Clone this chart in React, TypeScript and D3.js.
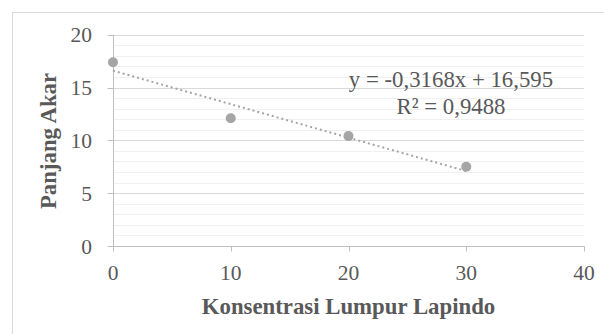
import * as d3 from 'd3'
import { useEffect, useRef } from 'react'

const concentrations = [0, 10, 20, 30]
const rootLengths = [17.4, 12.1, 10.4, 7.5]
const xTicks = [0, 10, 20, 30, 40]
const yTicks = [0, 5, 10, 15, 20]
const yMinorTicks = d3.range(0, 21, 1)
const trendSlope = -0.3168
const trendIntercept = 16.595
const trendLabel = ['y = -0,3168x + 16,595', 'R² = 0,9488']
const xTitle = 'Konsentrasi Lumpur Lapindo'
const yTitle = 'Panjang Akar'

const App = () => {
  const ref = useRef<SVGSVGElement>(null)

  useEffect(() => {
    const svg = d3.select(ref.current)
    svg.selectAll('*').remove()

    const font = '"Liberation Serif", "Times New Roman", serif'
    const textColor = '#595959'

    const x = d3.scaleLinear().domain([0, 40]).range([113, 584])
    const y = d3.scaleLinear().domain([0, 20]).range([246, 34.7])

    // chart frame (right and bottom edges fall outside the picture)
    svg
      .append('rect')
      .attr('x', 12.5)
      .attr('y', 12.5)
      .attr('width', 700)
      .attr('height', 500)
      .attr('fill', 'white')
      .attr('stroke', '#d9d9d9')

    // minor gridlines
    svg
      .append('g')
      .selectAll('line')
      .data(yMinorTicks.filter((d) => d % 5 !== 0))
      .join('line')
      .attr('x1', x(0))
      .attr('x2', x(40))
      .attr('y1', (d) => Math.round(y(d)) + 0.5)
      .attr('y2', (d) => Math.round(y(d)) + 0.5)
      .attr('stroke', '#f0f0f0')

    // major gridlines
    svg
      .append('g')
      .selectAll('line')
      .data(yTicks.filter((d) => d !== 0))
      .join('line')
      .attr('x1', x(0))
      .attr('x2', x(40))
      .attr('y1', (d) => Math.round(y(d)) + 0.5)
      .attr('y2', (d) => Math.round(y(d)) + 0.5)
      .attr('stroke', '#d9d9d9')

    // axes
    const axisColor = '#bfbfbf'
    const x0 = Math.round(x(0)) + 0.5
    const y0 = Math.round(y(0)) + 0.5
    svg
      .append('line')
      .attr('x1', x0)
      .attr('x2', x0)
      .attr('y1', y(20))
      .attr('y2', y0)
      .attr('stroke', axisColor)
    svg
      .append('line')
      .attr('x1', x(0))
      .attr('x2', x(40) + 0.5)
      .attr('y1', y0)
      .attr('y2', y0)
      .attr('stroke', axisColor)

    svg
      .append('g')
      .selectAll('line')
      .data(yTicks)
      .join('line')
      .attr('x1', x0 - 6)
      .attr('x2', x0)
      .attr('y1', (d) => Math.round(y(d)) + 0.5)
      .attr('y2', (d) => Math.round(y(d)) + 0.5)
      .attr('stroke', axisColor)

    svg
      .append('g')
      .selectAll('line')
      .data(xTicks)
      .join('line')
      .attr('x1', (d) => Math.round(x(d)) + 0.5)
      .attr('x2', (d) => Math.round(x(d)) + 0.5)
      .attr('y1', y0)
      .attr('y2', y0 + 5)
      .attr('stroke', axisColor)

    // tick labels
    svg
      .append('g')
      .selectAll('text')
      .data(yTicks)
      .join('text')
      .attr('x', 92)
      .attr('y', (d) => y(d) + 7.5)
      .attr('text-anchor', 'end')
      .attr('font-family', font)
      .attr('font-size', 21.5)
      .attr('fill', textColor)
      .text((d) => d)

    svg
      .append('g')
      .selectAll('text')
      .data(xTicks)
      .join('text')
      .attr('x', (d) => x(d))
      .attr('y', 280)
      .attr('text-anchor', 'middle')
      .attr('font-family', font)
      .attr('font-size', 21.5)
      .attr('fill', textColor)
      .text((d) => d)

    // axis titles
    svg
      .append('text')
      .attr('x', 348.5)
      .attr('y', 313.5)
      .attr('text-anchor', 'middle')
      .attr('font-family', font)
      .attr('font-size', 22.8)
      .attr('font-weight', 'bold')
      .attr('fill', textColor)
      .text(xTitle)

    svg
      .append('text')
      .attr('transform', 'translate(56,141) rotate(-90)')
      .attr('text-anchor', 'middle')
      .attr('font-family', font)
      .attr('font-size', 22.8)
      .attr('font-weight', 'bold')
      .attr('fill', textColor)
      .text(yTitle)

    // trendline
    const [t0, t1] = d3.extent(concentrations) as [number, number]
    svg
      .append('line')
      .attr('x1', x(t0))
      .attr('y1', y(trendSlope * t0 + trendIntercept))
      .attr('x2', x(t1))
      .attr('y2', y(trendSlope * t1 + trendIntercept))
      .attr('stroke', '#a5a5a5')
      .attr('stroke-width', 2)
      .attr('stroke-dasharray', '2 3')

    // points
    svg
      .append('g')
      .selectAll('circle')
      .data(concentrations)
      .join('circle')
      .attr('cx', (d) => x(d))
      .attr('cy', (d, i) => y(rootLengths[i]))
      .attr('r', 5)
      .attr('fill', '#a5a5a5')

    // trendline label
    svg
      .append('g')
      .selectAll('text')
      .data(trendLabel)
      .join('text')
      .attr('x', 451)
      .attr('y', (d, i) => 87 + i * 27)
      .attr('text-anchor', 'middle')
      .attr('font-family', font)
      .attr('font-size', 22.8)
      .attr('fill', textColor)
      .text((d) => d)
  }, [])

  return (
    <svg
      ref={ref}
      width={604}
      height={334}
      style={{ position: 'absolute', left: 0, top: 0 }}
    ></svg>
  )
}

export default App
